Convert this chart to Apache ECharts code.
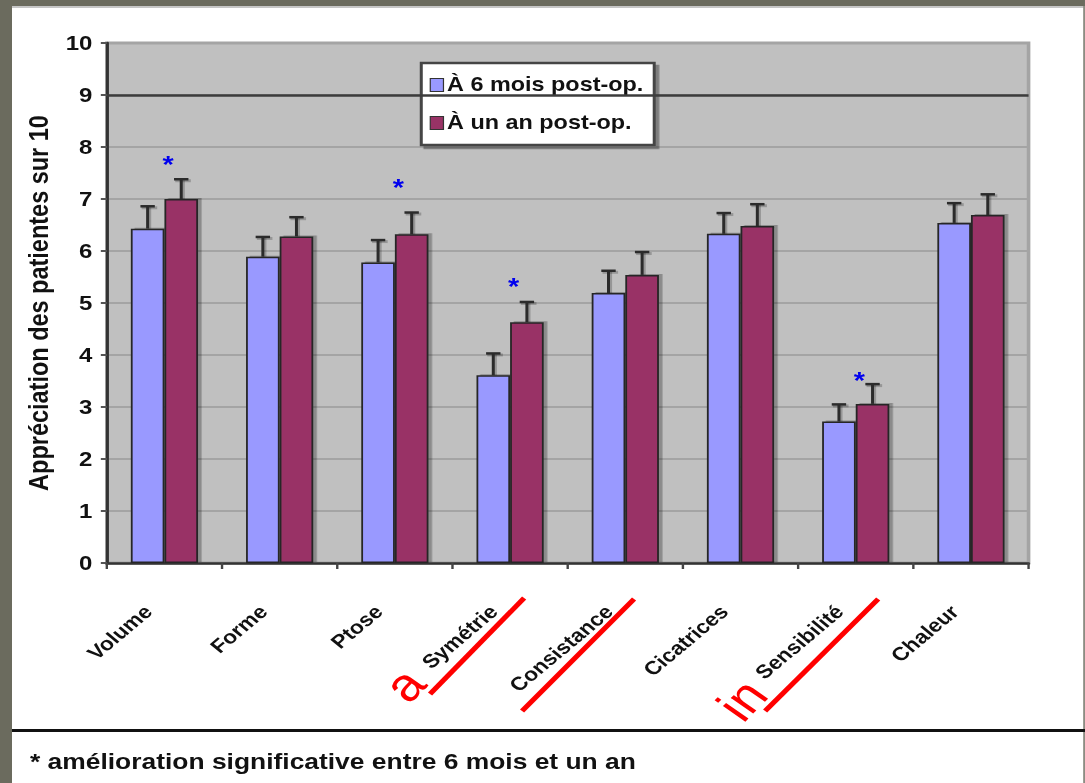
<!DOCTYPE html>
<html>
<head>
<meta charset="utf-8">
<script src="https://cdn.jsdelivr.net/npm/echarts@6/dist/echarts.min.js"></script>
<style>
  html, body { margin: 0; padding: 0; background: #fff; overflow: hidden; }
  #wrap { width: 1085px; height: 783px; position: relative; overflow: hidden; background: #fff; }
  /* the chart is laid out on a narrower canvas and widened, giving the broad lettering */
  #chart { width: 904px; height: 783px; transform: scaleX(1.2002); transform-origin: 0 0; }
</style>
</head>
<body>
<div id="wrap"><div id="chart"></div></div>
<script>
// ---- data ----
const categories = ['Volume', 'Forme', 'Ptose', 'Symétrie', 'Consistance', 'Cicatrices', 'Sensibilité', 'Chaleur'];
const seriesNames = ['À 6 mois post-op.', 'À un an post-op.'];
const sixMonths = [6.43, 5.89, 5.78, 3.61, 5.19, 6.33, 2.72, 6.54];
const oneYear = [7.00, 6.28, 6.32, 4.63, 5.54, 6.48, 3.06, 6.69];
const sixMonthsErr = [0.43, 0.38, 0.43, 0.42, 0.43, 0.40, 0.33, 0.38];
const oneYearErr = [0.38, 0.37, 0.42, 0.39, 0.44, 0.42, 0.38, 0.40];
const starCategories = ['Volume', 'Ptose', 'Symétrie', 'Sensibilité'];
const starValues = [7.75, 7.31, 5.40, 3.60];
const yName = 'Appréciation des patientes sur 10';
const footnote = '* amélioration significative entre 6 mois et un an';

// ---- style ----
const FONT = 'Liberation Sans, Arial, Helvetica, sans-serif';
const BLUE = '#9999ff';
const PLUM = '#993366';
const BAR_W = 28;
const INK = '#111';

const chart = echarts.init(document.getElementById('chart'), null, { renderer: 'svg' });

// upper error whiskers, with a soft grey copy behind as a drop shadow
function errorBars(values, errs, dx) {
  return {
    type: 'custom',
    z: 5,
    silent: true,
    data: values.map((v, i) => [i, v, errs[i]]),
    encode: { x: 0, y: 1 },
    renderItem: function (params, api) {
      const base = api.coord([api.value(0), api.value(1)]);
      const top = api.coord([api.value(0), api.value(1) + api.value(2)]);
      const x = base[0] + dx;
      const shade = { stroke: 'rgba(0,0,0,0.22)', lineWidth: 3 };
      const ink = { stroke: '#2b2b2b', lineWidth: 2.5 };
      return {
        type: 'group',
        children: [
          { type: 'line', shape: { x1: x + 1.5, y1: base[1], x2: x + 1.5, y2: top[1] + 1 }, style: shade },
          { type: 'line', shape: { x1: x - 5, y1: top[1] + 1.5, x2: x + 8, y2: top[1] + 1.5 }, style: shade },
          { type: 'line', shape: { x1: x, y1: base[1], x2: x, y2: top[1] }, style: ink },
          { type: 'line', shape: { x1: x - 6, y1: top[1], x2: x + 6, y2: top[1] }, style: ink }
        ]
      };
    }
  };
}

const stars = {
  type: 'custom',
  z: 6,
  silent: true,
  data: starCategories.map((c, i) => [categories.indexOf(c), starValues[i]]),
  encode: { x: 0, y: 1 },
  renderItem: function (params, api) {
    const p = api.coord([api.value(0), api.value(1)]);
    return {
      type: 'text',
      x: p[0] + 3,
      y: p[1] + 5,
      style: { text: '*', fill: '#0000ee', fontSize: 24, fontWeight: 'bold', fontFamily: FONT, align: 'center', verticalAlign: 'middle' }
    };
  }
};

const barItem = (color) => ({
  color: color,
  borderColor: '#262626',
  borderWidth: 1.5,
  shadowColor: 'rgba(0,0,0,0.28)',
  shadowOffsetX: 3,
  shadowOffsetY: -1,
  shadowBlur: 1
});

const option = {
  animation: false,
  backgroundColor: '#ffffff',
  grid: {
    left: 89, right: 47, top: 43, bottom: 220,
    show: true, backgroundColor: '#c0c0c0', borderColor: '#a4a4a4', borderWidth: 3
  },
  legend: {
    data: seriesNames,
    orient: 'vertical',
    left: 351, top: 63,
    itemWidth: 11, itemHeight: 13, itemGap: 18,
    padding: [12, 9, 12, 7],
    icon: 'rect',
    backgroundColor: '#ffffff',
    borderColor: '#444',
    borderWidth: 2.5,
    shadowColor: 'rgba(0,0,0,0.35)', shadowOffsetX: 3, shadowOffsetY: 3, shadowBlur: 0,
    itemStyle: { borderColor: '#333', borderWidth: 1 },
    textStyle: { fontSize: 19.5, fontWeight: 'bold', color: INK, fontFamily: FONT, padding: [0, 0, 0, -2] }
  },
  xAxis: {
    type: 'category',
    data: categories,
    axisLine: { lineStyle: { color: '#333', width: 2.5 } },
    axisTick: { show: true, length: 6, lineStyle: { color: '#444', width: 2 } },
    axisLabel: {
      interval: 0, rotate: 45, margin: 45, verticalAlign: 'bottom', padding: [0, 10, 0, 0],
      fontSize: 19, fontWeight: 'bold', color: INK, fontFamily: FONT
    },
    splitLine: { show: false }
  },
  yAxis: {
    type: 'value',
    min: 0, max: 10, interval: 1,
    name: yName,
    nameLocation: 'middle',
    nameGap: 42,
    nameRotate: 90,
    nameTextStyle: { fontSize: 23.5, fontWeight: 'bold', color: INK, fontFamily: FONT },
    axisLine: { show: true, lineStyle: { color: '#333', width: 2.5 } },
    axisTick: { show: true, length: 5, lineStyle: { color: '#555', width: 2 } },
    axisLabel: { margin: 12, fontSize: 20, fontWeight: 'bold', color: INK, fontFamily: FONT },
    splitLine: { show: true, lineStyle: { color: '#a4a4a4', width: 2 } }
  },
  series: [
    {
      name: seriesNames[0], type: 'bar', data: sixMonths,
      barWidth: BAR_W, barGap: '0%',
      itemStyle: barItem(BLUE),
      markLine: {
        silent: true, symbol: ['none', 'none'], label: { show: false },
        lineStyle: { color: '#3c3c3c', width: 2.5, type: 'solid' },
        data: [{ yAxis: 9 }]
      }
    },
    {
      name: seriesNames[1], type: 'bar', data: oneYear,
      barWidth: BAR_W, barGap: '0%',
      itemStyle: barItem(PLUM)
    },
    errorBars(sixMonths, sixMonthsErr, -BAR_W / 2),
    errorBars(oneYear, oneYearErr, BAR_W / 2),
    stars
  ],
  graphic: [
    // outer frame
    { type: 'rect', silent: true, shape: { x: 0, y: 0, width: 10, height: 783 }, style: { fill: '#6b6b5e' } },
    { type: 'rect', silent: true, shape: { x: 0, y: 0, width: 904, height: 6 }, style: { fill: '#6b6b5e' } },
    { type: 'rect', silent: true, shape: { x: 10, y: 6, width: 894, height: 2 }, style: { fill: '#c6c6c6' } },
    { type: 'rect', silent: true, shape: { x: 902.5, y: 6, width: 1.5, height: 777 }, style: { fill: '#8a8a80' } },
    // footnote
    { type: 'rect', silent: true, shape: { x: 10, y: 729, width: 894, height: 3 }, style: { fill: '#111' } },
    { type: 'text', silent: true, x: 25, y: 761,
      style: { text: footnote, fill: INK, fontSize: 22, fontWeight: 'bold', fontFamily: FONT, verticalAlign: 'middle' } },
    // red hand annotations
    { type: 'line', silent: true, shape: { x1: 358.3, y1: 694, x2: 436.7, y2: 598 }, style: { stroke: '#ff0000', lineWidth: 4.5 } },
    { type: 'line', silent: true, shape: { x1: 435, y1: 711, x2: 528.3, y2: 599 }, style: { stroke: '#ff0000', lineWidth: 4.5 } },
    { type: 'line', silent: true, shape: { x1: 637.5, y1: 711, x2: 731.7, y2: 599 }, style: { stroke: '#ff0000', lineWidth: 4.5 } },
    { type: 'text', silent: true, x: 336.7, y: 685, rotation: 0.876,
      style: { text: 'a', fill: '#ff0000', fontSize: 46, fontFamily: FONT, align: 'center', verticalAlign: 'middle' } },
    { type: 'text', silent: true, x: 618.3, y: 700, rotation: 0.876,
      style: { text: 'in', fill: '#ff0000', fontSize: 46, fontFamily: FONT, align: 'center', verticalAlign: 'middle' } }
  ]
};

chart.setOption(option);
</script>
</body>
</html>
